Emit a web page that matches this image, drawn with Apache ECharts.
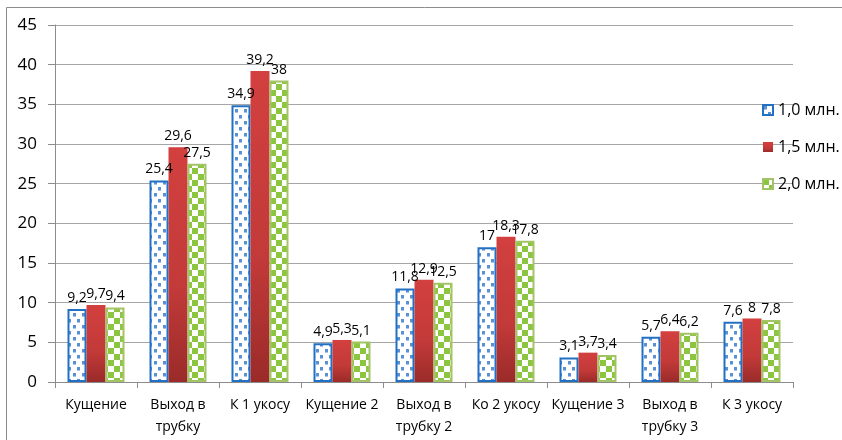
<!DOCTYPE html>
<html><head><meta charset="utf-8">
<script src="https://cdn.jsdelivr.net/npm/echarts@6/dist/echarts.min.js"></script>
<style>html,body{margin:0;padding:0;background:#fff}#c{width:842px;height:440px}</style>
</head><body><div id="c"></div>
<script>
const categories = ['Кущение', 'Выход в\nтрубку', 'К 1 укосу', 'Кущение 2', 'Выход в\nтрубку 2', 'Ко 2 укосу', 'Кущение 3', 'Выход в\nтрубку 3', 'К 3 укосу'];
const seriesNames = ['1,0 млн.', '1,5 млн.', '2,0 млн.'];
const s10 = [9.2, 25.4, 34.9, 4.9, 11.8, 17, 3.1, 5.7, 7.6];
const s15 = [9.7, 29.6, 39.2, 5.3, 12.9, 18.3, 3.7, 6.4, 8];
const s20 = [9.4, 27.5, 38, 5.1, 12.5, 17.8, 3.4, 6.2, 7.8];
const yMin = 0, yMax = 45, yStep = 5;

function dotPattern() {
  const c = document.createElement('canvas'); c.width = 9; c.height = 12;
  const g = c.getContext('2d');
  g.fillStyle = '#ffffff'; g.fillRect(0, 0, 9, 12);
  g.fillStyle = '#5a90d6';
  g.fillRect(1, 1, 3, 3); g.fillRect(5, 7, 3, 3);
  g.fillStyle = '#a9c4ea';
  g.fillRect(1, 4, 3, 1); g.fillRect(5, 10, 3, 1);
  return { image: c, repeat: 'repeat' };
}
function checkPattern() {
  const c = document.createElement('canvas'); c.width = 12; c.height = 12;
  const g = c.getContext('2d');
  g.fillStyle = '#ffffff'; g.fillRect(0, 0, 12, 12);
  g.fillStyle = '#8cc640';
  g.fillRect(0, 0, 6, 6); g.fillRect(6, 6, 6, 6);
  return { image: c, repeat: 'repeat' };
}
const redGrad = new echarts.graphic.LinearGradient(0, 0, 0, 1, [
  { offset: 0, color: '#d2403f' }, { offset: 0.6, color: '#c23a39' }, { offset: 1, color: '#9a2b29' }]);

const fmt = p => String(p.value).replace('.', ',');
const lbl = { show: true, position: 'top', distance: 4, color: '#000', fontSize: 14, fontFamily: 'Liberation Sans Narrow, Open Sans, sans-serif', formatter: fmt };

const chart = echarts.init(document.getElementById('c'));
chart.setOption({
  animation: false,
  graphic: [{ type: 'rect', shape: { x: 6.5, y: 7.5, width: 900, height: 500 }, style: { fill: 'none', stroke: '#8c8c8c', lineWidth: 1 }, silent: true }],
  grid: { left: 55, right: 49, top: 25, bottom: 58 },
  legend: {
    orient: 'vertical', left: 757, top: 97, itemWidth: 10, itemHeight: 10, itemGap: 21,
    icon: 'rect',
    textStyle: { fontSize: 16, color: '#000', fontFamily: 'Open Sans, sans-serif', lineHeight: 16 },
    data: seriesNames
  },
  xAxis: {
    type: 'category', data: categories,
    axisLine: { lineStyle: { color: '#8c8c8c', width: 1 } },
    axisTick: { show: true, length: 6, lineStyle: { color: '#8c8c8c' } },
    axisLabel: { color: '#000', fontSize: 14, lineHeight: 22, margin: 12, interval: 0, fontFamily: 'Liberation Sans Narrow, Open Sans, sans-serif' }
  },
  yAxis: {
    type: 'value', min: yMin, max: yMax, interval: yStep,
    axisLine: { show: true, lineStyle: { color: '#8c8c8c' } },
    axisTick: { show: true, length: 7, lineStyle: { color: '#8c8c8c' } },
    splitLine: { lineStyle: { color: '#a6a6a6' } },
    axisLabel: { color: '#000', fontSize: 17, margin: 18, fontFamily: 'Open Sans, sans-serif' }
  },
  series: [
    { name: seriesNames[0], type: 'bar', data: s10, barWidth: 19, barGap: '0%',
      itemStyle: { color: dotPattern(), borderColor: '#2270c4', borderWidth: 2 }, label: lbl },
    { name: seriesNames[1], type: 'bar', data: s15, barWidth: 19, barGap: '0%',
      itemStyle: { color: redGrad }, label: lbl },
    { name: seriesNames[2], type: 'bar', data: s20, barWidth: 19, barGap: '0%',
      itemStyle: { color: checkPattern(), borderColor: '#a3c466', borderWidth: 2 }, label: lbl }
  ]
});
</script></body></html>
